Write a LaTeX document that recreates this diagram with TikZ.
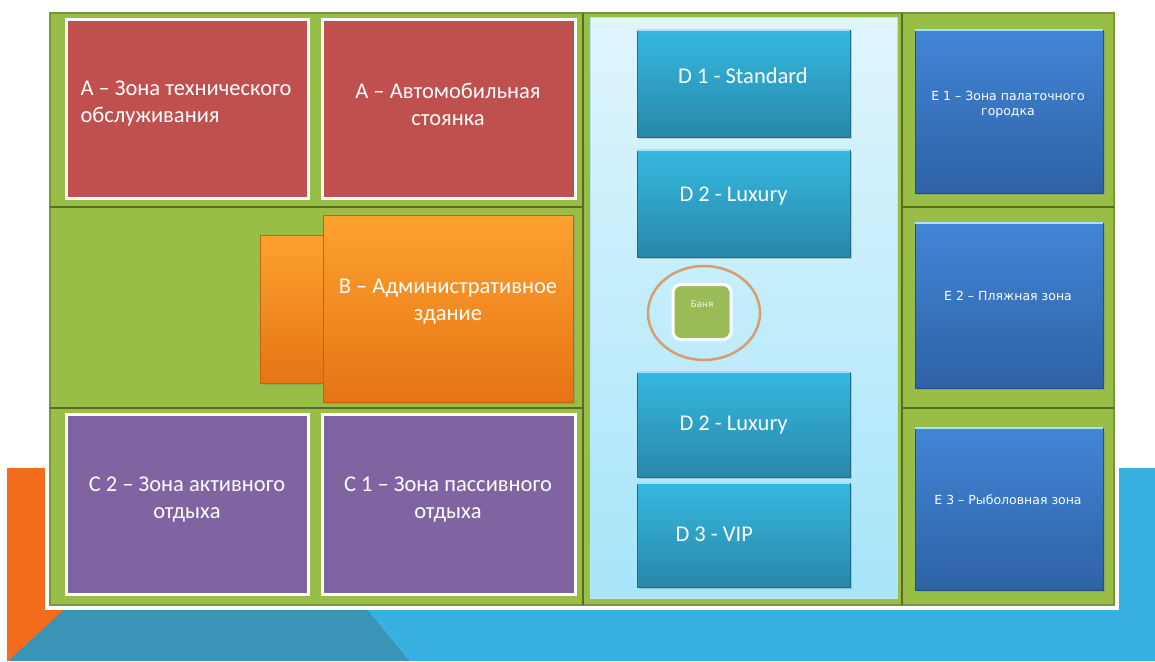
\documentclass[tikz,border=0pt]{standalone}
\usepackage{fontspec}
\setmainfont{Carlito}
\newfontfamily\widefont{DejaVu Sans}
\usetikzlibrary{fit,shadows,shapes.geometric}

\definecolor{panelgreen}{RGB}{152,190,72}
\definecolor{panelrim}{RGB}{120,150,55}
\definecolor{linegreen}{RGB}{86,110,36}
\definecolor{zonered}{RGB}{192,80,77}
\definecolor{zonepurple}{RGB}{128,100,162}
\definecolor{orangetop}{RGB}{252,162,48}
\definecolor{orangebot}{RGB}{230,116,20}
\definecolor{cyantop}{RGB}{54,184,224}
\definecolor{cyanbot}{RGB}{40,136,170}
\definecolor{bluetop}{RGB}{66,133,214}
\definecolor{bluebot}{RGB}{46,98,166}
\definecolor{paletop}{RGB}{224,245,253}
\definecolor{palebot}{RGB}{166,229,250}
\definecolor{bathgreen}{RGB}{155,187,89}
\definecolor{ringtan}{RGB}{214,158,108}
\definecolor{bgorange}{RGB}{243,108,30}
\definecolor{bgteal}{RGB}{58,148,184}
\definecolor{bgblue}{RGB}{56,176,224}

\tikzset{
  zone/.style={inner sep=0pt, draw=white, line width=3pt},
  redzone/.style={zone, fill=zonered},
  purplezone/.style={zone, fill=zonepurple},
  adminzone/.style={inner sep=0pt, draw=orangebot!85!black, line width=0.6pt,
    top color=orangetop, bottom color=orangebot,
    drop shadow={opacity=0.35, shadow xshift=1.5pt, shadow yshift=-1.5pt}},
  housezone/.style={inner sep=0pt, draw=cyanbot!80!black, line width=0.6pt,
    top color=cyantop, bottom color=cyanbot,
    drop shadow={opacity=0.35, shadow xshift=1.5pt, shadow yshift=-1.5pt}},
  lakezone/.style={inner sep=0pt, draw=bluebot!80!black, line width=0.6pt,
    top color=bluetop, bottom color=bluebot,
    drop shadow={opacity=0.35, shadow xshift=1.5pt, shadow yshift=-1.5pt}},
  hilite/.style={line width=2pt, color=cyan!35!white},
  divider/.style={line width=2pt, color=linegreen},
  zonetext/.style={text=white, font=\fontsize{22.5}{27}\selectfont, align=center},
  housetext/.style={text=white, font=\fontsize{22.5}{27}\selectfont},
  smalltext/.style={text=white, font=\widefont\fontsize{12.5}{15}\selectfont, align=center}
}

\begin{document}
\begin{tikzpicture}[x=1pt, y=-1pt]
    \useasboundingbox (0,0) rectangle (1155,661);
    \fill[white] (0,0) rectangle (1155,661);

    % Background bands
    \fill[bgorange] (7,468) -- (120,468) -- (120,600) -- (75,605) -- (8,661) -- (7,661) -- cycle;
    \fill[bgteal] (75,600) -- (360,600) -- (410,661) -- (8,661) -- cycle;
    \fill[bgblue] (360,600) -- (1117,600) -- (1117,468) -- (1155,468) -- (1155,661) -- (410,661) -- cycle;

    % Plan panel
    \fill[white] (45,8) rectangle (1119,610);
    \draw[panelrim, line width=2pt, fill=panelgreen] (50,13) rectangle (1114,605);
    \draw[divider] (583,13) -- (583,605);
    \draw[divider] (902,13) -- (902,605);
    \draw[divider] (50,207) -- (583,207);
    \draw[divider] (50,408) -- (583,408);
    \draw[divider] (902,207) -- (1114,207);
    \draw[divider] (902,408) -- (1114,408);

    % Zone A
    \node[redzone, fit={(66,20) (308,198)}] (techzone) {};
    \node[redzone, fit={(322,20) (575,198)}] (parking) {};
    \node[zonetext, align=left] (techlabel) at (186,104) {A – Зона технического\\обслуживания};
    \node[zonetext] (parkinglabel) at (448,104) {A – Автомобильная\\стоянка};

    % Zone B
    \node[adminzone, fit={(260,235) (323,383)}] (adminback) {};
    \node[adminzone, fit={(323,215) (573,402)}] (admin) {};
    \node[zonetext] (adminlabel) at (448,302) {В – Административное\\здание};

    % Zone C
    \node[purplezone, fit={(66,414) (308,594)}] (activezone) {};
    \node[purplezone, fit={(322,414) (575,594)}] (passivezone) {};
    \node[zonetext] (activelabel) at (187,500) {С 2 – Зона активного\\отдыха};
    \node[zonetext] (passivelabel) at (448,500) {С 1 – Зона пассивного\\отдыха};

    % Zone D
    \draw[white!70!cyan, line width=1pt, top color=paletop, bottom color=palebot] (590,18) rectangle (897,598);
    \node[housezone, fit={(637,30) (850,137)}] (standard) {};
    \node[housezone, fit={(637,150) (850,257)}] (luxuryup) {};
    \node[housezone, fit={(637,372) (850,477)}] (luxurydown) {};
    \node[housezone, fit={(637,483) (850,587)}] (vip) {};
    \foreach \house in {standard, luxuryup, luxurydown, vip}
        \draw[hilite] (\house.north west) -- (\house.north east);
    \node[housetext] (standardlabel) at (743,76) {D 1 - Standard};
    \node[housetext, anchor=west] (luxuryuplabel) at (676,196) {D 2 - Luxury};
    \node[housetext, anchor=west] (luxurydownlabel) at (676,425) {D 2 - Luxury};
    \node[housetext, anchor=west] (viplabel) at (672,534) {D 3 - VIP};

    % Bath house
    \node[draw=ringtan, line width=2.5pt, ellipse, minimum width=112pt, minimum height=94pt] (ring) at (704,313) {};
    \node[draw=white, line width=3pt, fill=bathgreen, rounded corners=8pt, minimum width=58pt, minimum height=55pt,
          drop shadow={opacity=0.25, shadow xshift=1pt, shadow yshift=-1pt}] (bath) at (702,312) {};
    \node[text=white!85!bathgreen, font=\widefont\fontsize{9}{11}\selectfont] (bathlabel) at (702,304) {Баня};

    % Zone E
    \node[lakezone, fit={(915,30) (1103,193)}] (tents) {};
    \node[lakezone, fit={(915,223) (1103,388)}] (beach) {};
    \node[lakezone, fit={(915,428) (1103,590)}] (fishing) {};
    \foreach \lake in {tents, beach, fishing}
        \draw[hilite] (\lake.north west) -- (\lake.north east);
    \node[smalltext] (tentslabel) at (1008,105) {Е 1 – Зона палаточного\\городка};
    \node[smalltext] (beachlabel) at (1008,296) {Е 2 – Пляжная зона};
    \node[smalltext] (fishinglabel) at (1008,500) {Е 3 – Рыболовная зона};
\end{tikzpicture}
\end{document}
